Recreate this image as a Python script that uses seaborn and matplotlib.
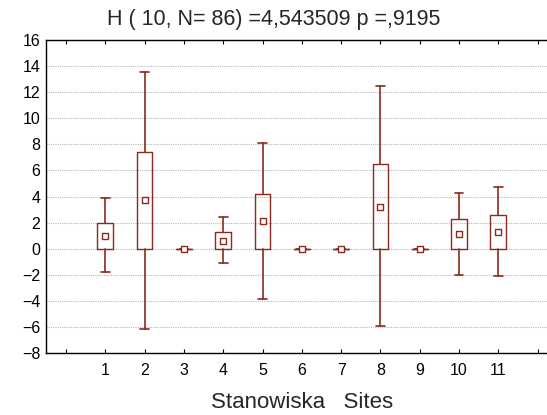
import numpy as np
import pandas as pd
import matplotlib
matplotlib.use("Agg")
import matplotlib.pyplot as plt
import seaborn as sns

# Data (Statistica-style box plot)
sites = [1, 2, 3, 4, 5, 6, 7, 8, 9, 10, 11]
means = [1.0, 3.7, 0.0, 0.6, 2.1, 0.0, 0.0, 3.2, 0.0, 1.15, 1.3]
box_low = [0.0, 0.0, 0.0, 0.0, 0.0, 0.0, 0.0, 0.0, 0.0, 0.0, 0.0]
box_high = [2.0, 7.4, 0.0, 1.25, 4.2, 0.0, 0.0, 6.5, 0.0, 2.25, 2.6]
whisk_low = [-1.8, -6.15, 0.0, -1.1, -3.85, 0.0, 0.0, -5.95, 0.0, -2.05, -2.1]
whisk_high = [3.85, 13.55, 0.0, 2.4, 8.1, 0.0, 0.0, 12.45, 0.0, 4.3, 4.7]

title = "H ( 10, N= 86) =4,543509 p =,9195"
xlabel = "Stanowiska   Sites"

sns.set_style("white")
plt.rcParams['font.family'] = ['Liberation Sans', 'DejaVu Sans']

red = '#8b2a1e'

fig = plt.figure(figsize=(5.47, 4.15), dpi=100)
ax = fig.add_axes([0.0841, 0.1494, 0.9159, 0.7542])

stats = []
for i in range(len(sites)):
    stats.append({
        'med': means[i],
        'q1': box_low[i],
        'q3': box_high[i],
        'whislo': whisk_low[i],
        'whishi': whisk_high[i],
        'fliers': [],
    })

ax.bxp(stats, positions=sites, widths=0.4, showfliers=False,
       boxprops=dict(color=red, linewidth=1.0),
       whiskerprops=dict(color=red, linewidth=1.2),
       capprops=dict(color=red, linewidth=1.2),
       medianprops=dict(linewidth=0), capwidths=0.22,
       manage_ticks=False, zorder=3)

df = pd.DataFrame({'site': sites, 'mean': means})
sns.scatterplot(data=df, x='site', y='mean', marker='s', s=22,
                color='white', edgecolor=red, linewidth=1.0, ax=ax, zorder=4)

ax.set_xlim(-0.51, 12.24)
ax.set_ylim(-8, 16)
ax.set_yticks(np.arange(-8, 17, 2))
ax.set_xticks(range(0, 13))
ax.set_xticklabels([''] + [str(s) for s in sites] + [''])
ax.yaxis.grid(True, linestyle=(0, (1, 1)), color='#b8b8b8', linewidth=0.8)
ax.set_axisbelow(True)

for side in ['left', 'top', 'bottom']:
    ax.spines[side].set_color('black')
    ax.spines[side].set_linewidth(1.0)
ax.spines['right'].set_visible(False)

ax.tick_params(axis='x', direction='in', top=True, bottom=True, length=3,
               width=0.8, labelsize=11.5, pad=7, colors='black')
ax.tick_params(axis='y', length=0, labelsize=11.5, pad=4, colors='black')

ax.set_xlabel(xlabel, fontsize=16)
ax.xaxis.set_label_coords(0.512, -0.125)
ax.set_ylabel('')
fig.text(0.5, 0.953, title, fontsize=15.5, ha='center', va='center')

fig.savefig('out.png', dpi=100)
